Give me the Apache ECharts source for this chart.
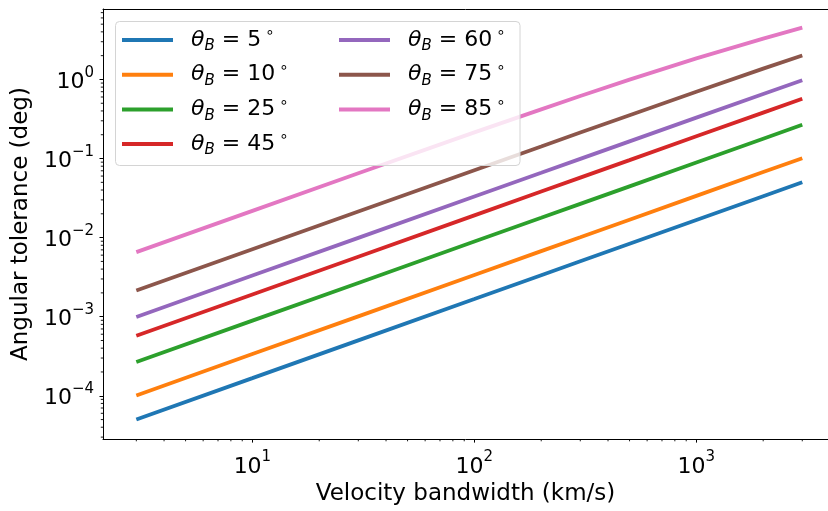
<!DOCTYPE html>
<html>
<head>
<meta charset="utf-8">
<script src="https://cdn.jsdelivr.net/npm/echarts@6/dist/echarts.min.js"></script>
<style>
html,body{margin:0;padding:0;background:#fff;}
#chart{width:828px;height:511px;}
</style>
</head>
<body>
<div id="chart"></div>
<script>
// ---- data ----
const velocities = [3, 10, 30, 100, 200, 300, 500, 1000, 2000, 3000];
const angles = [5, 10, 25, 45, 60, 75, 85];
const tol5  = [5.02e-5, 1.67e-4, 5.02e-4, 1.67e-3, 3.34e-3, 5.02e-3, 8.37e-3, 1.672e-2, 3.34e-2, 5.02e-2];
const tol10 = [1.01e-4, 3.37e-4, 1.01e-3, 3.37e-3, 6.74e-3, 1.01e-2, 1.685e-2, 3.37e-2, 6.74e-2, 0.101];
const tol25 = [2.67e-4, 8.91e-4, 2.67e-3, 8.91e-3, 1.78e-2, 2.67e-2, 4.45e-2, 8.90e-2, 0.178, 0.267];
const tol45 = [5.73e-4, 1.91e-3, 5.73e-3, 1.91e-2, 3.82e-2, 5.73e-2, 9.54e-2, 0.191, 0.381, 0.571];
const tol60 = [9.93e-4, 3.31e-3, 9.93e-3, 3.31e-2, 6.61e-2, 9.91e-2, 0.165, 0.329, 0.656, 0.979];
const tol75 = [2.14e-3, 7.14e-3, 2.14e-2, 7.12e-2, 0.142, 0.213, 0.353, 0.698, 1.37, 2.01];
const tol85 = [6.55e-3, 2.18e-2, 6.51e-2, 0.214, 0.419, 0.617, 0.994, 1.845, 3.29, 4.52];
const seriesValues = [tol5, tol10, tol25, tol45, tol60, tol75, tol85];
const colors = ['#1f77b4', '#ff7f0e', '#2ca02c', '#d62728', '#9467bd', '#8c564b', '#e377c2'];

const xMin = Math.pow(10, 0.327), xMax = Math.pow(10, 3.593);
const yMin = Math.pow(10, -4.548), yMax = Math.pow(10, 0.891);

// minor tick positions (2..9 x 10^k)
const xMinor = [], yMinor = [];
for (let k = 0; k <= 3; k++) for (let m = 2; m <= 9; m++) { const v = m * Math.pow(10, k); if (v > xMin && v < xMax) xMinor.push(v); }
for (let k = -5; k <= 0; k++) for (let m = 2; m <= 9; m++) { const v = m * Math.pow(10, k); if (v > yMin && v < yMax) yMinor.push(v); }

const FONT = 'DejaVu Sans';
const names = angles.map(a => 'θB = ' + a + '°');

function logLabel(v) {
  const e = Math.log10(v);
  const r = Math.round(e);
  if (Math.abs(e - r) > 1e-6) return '';
  return '{a|10}{s|' + (r < 0 ? '\u2212' + (-r) : String(r)) + '}';
}
const tickRich = {
  a: {fontFamily: FONT, fontSize: 22, lineHeight: 28, verticalAlign: 'bottom', color: '#000'},
  s: {fontFamily: FONT, fontSize: 15, lineHeight: 15, verticalAlign: 'top', color: '#000'}
};
const legendRich = {
  t: {fontFamily: FONT, fontStyle: 'italic', fontSize: 22, lineHeight: 28, verticalAlign: 'middle', color: '#000', padding: [0, 0, 0, 13]},
  b: {fontFamily: FONT, fontStyle: 'italic', fontSize: 15, lineHeight: 15, verticalAlign: 'bottom', color: '#000'},
  n: {fontFamily: FONT, fontSize: 22, lineHeight: 28, verticalAlign: 'middle', color: '#000'},
  d: {fontFamily: FONT, fontSize: 15, lineHeight: 15, verticalAlign: 'top', color: '#000', padding: [0, 0, 0, 4]}
};
function legendFmt(name) {
  const a = angles[names.indexOf(name)];
  return '{t|θ}{b|B}{n| = ' + a + '}{d|∘}';
}

const series = seriesValues.map((vals, i) => ({
  name: names[i],
  type: 'line',
  showSymbol: false,
  symbol: 'none',
  color: colors[i],
  lineStyle: {width: 3.8, color: colors[i], cap: 'butt'},
  data: velocities.map((x, j) => [x, vals[j]]),
  z: 2
}));

series.push({
  type: 'custom', coordinateSystem: 'cartesian2d', xAxisIndex: 0, yAxisIndex: 0,
  silent: true, clip: false, z: 3,
  data: xMinor.map(v => [v, yMin]),
  renderItem: (params, api) => {
    const p = api.coord([api.value(0), yMin]);
    return {type: 'line', shape: {x1: p[0], y1: p[1], x2: p[0], y2: p[1] + 2.2}, style: {stroke: '#000', lineWidth: 0.9}};
  }
});
series.push({
  type: 'custom', coordinateSystem: 'cartesian2d', xAxisIndex: 0, yAxisIndex: 0,
  silent: true, clip: false, z: 3,
  data: yMinor.map(v => [xMin, v]),
  renderItem: (params, api) => {
    const p = api.coord([xMin, api.value(1)]);
    return {type: 'line', shape: {x1: p[0] - 2.2, y1: p[1], x2: p[0], y2: p[1]}, style: {stroke: '#000', lineWidth: 0.9}};
  }
});

const legendCommon = {
  orient: 'vertical', padding: 0, itemGap: 6.7, itemWidth: 51, itemHeight: 4,
  icon: 'rect', selectedMode: false, z: 20,
  formatter: legendFmt,
  textStyle: {rich: legendRich, fontFamily: FONT, fontSize: 22}
};

const chart = echarts.init(document.getElementById('chart'), null, {renderer: 'canvas'});
chart.setOption({
  animation: false,
  backgroundColor: '#fff',
  grid: {left: 103, top: 9, right: 0, height: 437, containLabel: false},
  xAxis: [{
    type: 'log', logBase: 10, min: xMin, max: xMax,
    name: 'Velocity bandwidth (km/s)', nameLocation: 'middle', nameGap: 37,
    nameTextStyle: {fontFamily: FONT, fontSize: 23, color: '#000'},
    axisLine: {show: true, onZero: false, lineStyle: {color: '#000', width: 1}},
    axisTick: {show: true, length: 3.5, lineStyle: {color: '#000', width: 1}},
    axisLabel: {show: true, margin: 11, formatter: logLabel, rich: tickRich, showMinLabel: false, showMaxLabel: false},
    splitLine: {show: false}, minorTick: {show: false}, minorSplitLine: {show: false}
  }, {
    type: 'value', position: 'top', min: 0, max: 1,
    axisLine: {show: true, onZero: false, lineStyle: {color: '#000', width: 1}},
    axisTick: {show: false}, axisLabel: {show: false}, splitLine: {show: false}
  }],
  yAxis: [{
    type: 'log', logBase: 10, min: yMin, max: yMax,
    name: 'Angular tolerance (deg)', nameLocation: 'middle', nameGap: 70,
    nameTextStyle: {fontFamily: FONT, fontSize: 23, color: '#000'},
    axisLine: {show: true, onZero: false, lineStyle: {color: '#000', width: 1}},
    axisTick: {show: true, length: 3.5, lineStyle: {color: '#000', width: 1}},
    axisLabel: {show: true, margin: 9, formatter: logLabel, rich: tickRich, showMinLabel: false, showMaxLabel: false},
    splitLine: {show: false}, minorTick: {show: false}
  }],
  graphic: {elements: [{
    type: 'rect', z: 10, silent: true,
    shape: {x: 115.5, y: 21.5, width: 404.5, height: 144, r: 4},
    style: {fill: 'rgba(255,255,255,0.8)', stroke: '#d4d4d4', lineWidth: 1}
  }]},
  legend: [
    Object.assign({}, legendCommon, {left: 122, top: 26, data: names.slice(0, 4)}),
    Object.assign({}, legendCommon, {left: 339, top: 26, data: names.slice(4)})
  ],
  series: series
});
</script>
</body>
</html>
